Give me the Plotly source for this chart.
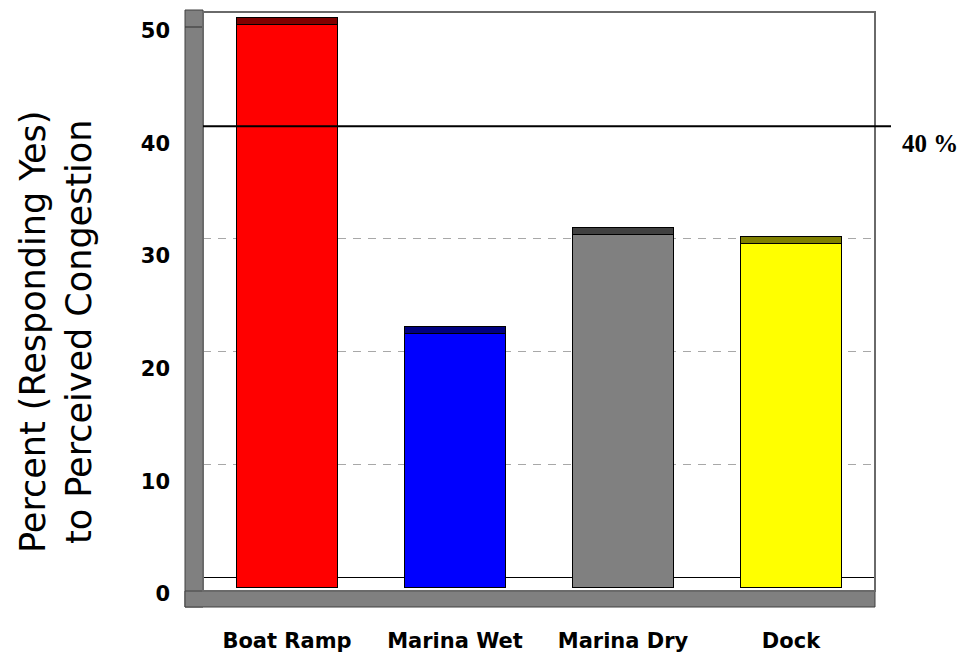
import plotly.graph_objects as go

# ---------------- data ----------------
categories = ["Boat Ramp", "Marina Wet", "Marina Dry", "Dock"]
percent_yes = [49.9, 22.5, 31.3, 30.5]
tick_values = [0, 10, 20, 30, 40, 50]
tick_labels = ["0", "10", "20", "30", "40", "50"]
threshold = 40
threshold_label = "40 %"
y_title = "Percent (Responding Yes)<br>to Perceived Congestion"

# ---------------- styles ----------------
face_colors = ["#ff0000", "#0000ff", "#808080", "#ffff00"]
top_colors = ["#800000", "#000080", "#404040", "#808000"]

W, H = 962, 655
L, R, T, B = 203, 87, 13, 48
PW = W - L - R
PH = H - T - B


def px(x):
    return (x - L) / PW


def py(y):
    return (H - B - y) / PH


Y_RANGE = [-2.66, 50.04]      # back-wall scale
DEPTH = 0.89                  # front-face offset of the pseudo-3D bars
CAP = 0.62                    # visible top face of each bar
Y2_RANGE = [Y_RANGE[0] + DEPTH, Y_RANGE[1] + DEPTH]

SANS = "DejaVu Sans"
SERIF = "Liberation Serif"

fig = go.Figure()
fig.add_trace(go.Bar(
    x=categories, y=percent_yes, yaxis="y2", width=0.6,
    marker=dict(color=face_colors, line=dict(color="#000000", width=1)),
    hoverinfo="skip", showlegend=False,
))
fig.add_trace(go.Bar(
    x=categories, y=[CAP] * len(categories), yaxis="y2", width=0.6,
    marker=dict(color=top_colors, line=dict(color="#000000", width=1)),
    hoverinfo="skip", showlegend=False,
))

shapes = [
    # left wall
    dict(type="rect", xref="paper", yref="paper", x0=px(185), x1=px(203),
         y0=py(607), y1=py(10), fillcolor="#808080",
         line=dict(color="#404040", width=1), layer="above"),
    dict(type="line", xref="paper", yref="paper", x0=px(185), x1=px(203),
         y0=py(27), y1=py(27), line=dict(color="#303030", width=1), layer="above"),
    # floor
    dict(type="rect", xref="paper", yref="paper", x0=px(185), x1=px(875),
         y0=py(607), y1=py(591), fillcolor="#808080",
         line=dict(color="#404040", width=1), layer="above"),
    # back wall frame
    dict(type="rect", xref="paper", yref="paper", x0=px(203), x1=px(875),
         y0=py(591), y1=py(12), fillcolor="rgba(0,0,0,0)",
         line=dict(color="#6a6a6a", width=2), layer="above"),
    # threshold line
    dict(type="line", xref="paper", yref="y", x0=px(203), x1=px(891),
         y0=threshold, y1=threshold, line=dict(color="#000000", width=2),
         layer="above"),
]

fig.update_layout(
    width=W, height=H, autosize=False,
    margin=dict(l=L, r=R, t=T, b=B, pad=0),
    paper_bgcolor="white", plot_bgcolor="white",
    barmode="stack", bargap=0.4,
    showlegend=False,
    shapes=shapes,
    xaxis=dict(
        type="category", range=[-0.5, len(categories) - 0.5],
        showgrid=False, showline=False, zeroline=False, ticks="",
        tickfont=dict(family=SANS, size=21, color="#000000", weight="bold"),
        ticklabelstandoff=19, automargin=False,
    ),
    yaxis=dict(
        range=Y_RANGE, tickvals=tick_values, ticktext=tick_labels,
        showline=False, ticks="", automargin=False,
        showgrid=True, gridcolor="#a8a8a8", gridwidth=1, griddash="8px,7px",
        zeroline=True, zerolinecolor="#000000", zerolinewidth=1,
        tickfont=dict(family=SANS, size=21, color="#000000", weight="bold"),
        ticklabelstandoff=32, ticklabelshift=17,
    ),
    yaxis2=dict(overlaying="y", range=Y2_RANGE, visible=False, automargin=False),
    annotations=[
        dict(text=threshold_label, xref="paper", yref="y", x=px(930), y=threshold,
             yshift=-17, showarrow=False, xanchor="center", yanchor="middle",
             font=dict(family=SERIF, size=25, color="#000000", weight="bold")),
        dict(text=y_title, xref="paper", yref="paper", x=px(56), y=py(332),
             textangle=-90, showarrow=False, xanchor="center", yanchor="middle",
             align="center",
             font=dict(family=SANS, size=35, color="#000000")),
    ],
)

fig.write_html("out.html", config={"displayModeBar": False},
               post_script="document.body.style.margin='0px';")
